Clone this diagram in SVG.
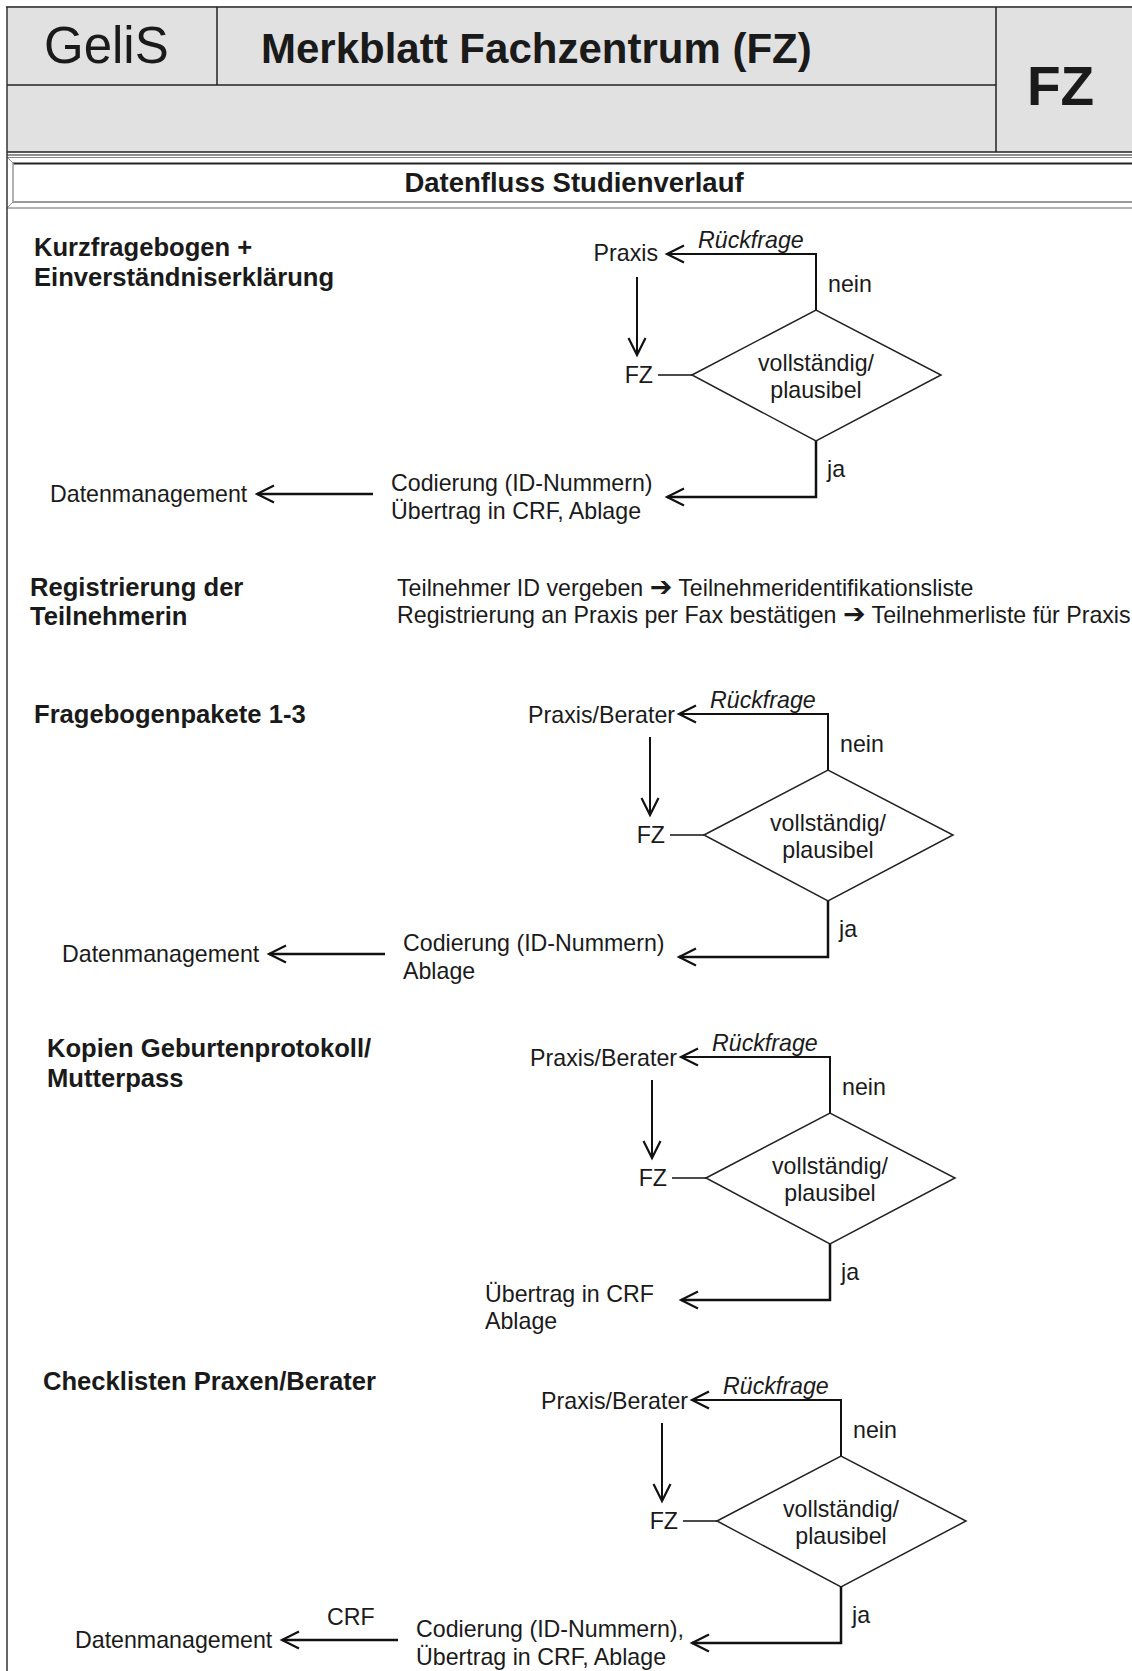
<svg xmlns="http://www.w3.org/2000/svg" width="1132" height="1671" viewBox="0 0 1132 1671">
<defs>
<style>
text{font-family:"Liberation Sans",Arial,sans-serif;fill:#1a1a1a}
.t{font-size:23.2px}
.h{font-size:25.6px;font-weight:bold}
.i{font-size:23.2px;font-style:italic}
.c{font-size:23.2px;text-anchor:middle}
.e{font-size:23.2px;text-anchor:end}
.ar{font-family:"DejaVu Sans",sans-serif;font-size:27px}
.ln{fill:none;stroke:#111;stroke-width:2}
.dm{fill:#fff;stroke:#222;stroke-width:1.5}
.hl{stroke:#222;stroke-width:1.5;fill:none}
</style>
<marker id="chev" markerUnits="userSpaceOnUse" markerWidth="30" markerHeight="30" viewBox="-22 -15 30 30" refX="0" refY="0" orient="auto" overflow="visible">
<path d="M-17,-8.5 L0,0 L-17,8.5" fill="none" stroke="#111" stroke-width="2.2"/>
</marker>
</defs>
<rect width="1132" height="1671" fill="#fff"/>
<g id="header">
<rect x="7" y="7" width="1130" height="145" fill="#e1e1e1"/>
<line x1="6" y1="7" x2="1132" y2="7" stroke="#555" stroke-width="2"/>
<line x1="217" y1="7" x2="217" y2="85" class="hl"/>
<line x1="7" y1="85" x2="996" y2="85" class="hl"/>
<line x1="996" y1="7" x2="996" y2="152" class="hl"/>
<line x1="7" y1="152" x2="1132" y2="152" class="hl"/>
<text x="44" y="63" style="font-size:51px">GeliS</text>
<text x="261" y="63" style="font-size:42px;font-weight:bold">Merkblatt Fachzentrum (FZ)</text>
<text x="1027" y="105" style="font-size:55px;font-weight:bold">FZ</text>
</g>
<g id="band">
<line x1="7" y1="155" x2="1132" y2="155" stroke="#222" stroke-width="1"/>
<line x1="7" y1="157.5" x2="1132" y2="157.5" stroke="#888" stroke-width="1"/>
<line x1="13" y1="163.5" x2="1132" y2="163.5" stroke="#222" stroke-width="2"/>
<line x1="13" y1="202" x2="1132" y2="202" stroke="#999" stroke-width="2"/>
<line x1="7" y1="208" x2="1132" y2="208" stroke="#999" stroke-width="1.5"/>
<line x1="13" y1="163" x2="13" y2="202" stroke="#999" stroke-width="1.5"/>
<line x1="7" y1="157" x2="13" y2="163" stroke="#999" stroke-width="1"/>
<line x1="7" y1="208" x2="13" y2="202" stroke="#999" stroke-width="1"/>
<text x="574" y="192" text-anchor="middle" style="font-size:27.5px;font-weight:bold">Datenfluss Studienverlauf</text>
</g>
<line x1="7" y1="7" x2="7" y2="1671" stroke="#333" stroke-width="1.5"/>

<g id="s1-nodes">
<g id="s1-title"><text class="h" x="34" y="256">Kurzfragebogen +</text><text class="h" x="34" y="286">Einverständniserklärung</text></g>
<g id="s1-praxis"><text class="e" x="658" y="261">Praxis</text></g>
<g id="s1-fz"><text class="e" x="653" y="383">FZ</text></g>
<g id="s1-check"><polygon class="dm" points="692,375 816,310 941,375 816,441"/><text class="c" x="816" y="371">vollständig/</text><text class="c" x="816" y="398">plausibel</text></g>
<g id="s1-out"><text class="t" x="391" y="491">Codierung (ID-Nummern)</text><text class="t" x="391" y="519">Übertrag in CRF, Ablage</text></g>
<g id="s1-dm"><text class="t" x="50" y="502">Datenmanagement</text></g>
</g>

<g id="s2-nodes">
<g id="s2-title"><text class="h" x="30" y="596">Registrierung der</text><text class="h" x="30" y="625">Teilnehmerin</text></g>
<g id="s2-text"><text class="t" x="397" y="596">Teilnehmer ID vergeben <tspan class="ar">➔</tspan> Teilnehmeridentifikationsliste</text><text class="t" x="397" y="623">Registrierung an Praxis per Fax bestätigen <tspan class="ar">➔</tspan> Teilnehmerliste für Praxis</text></g>
</g>

<g id="s3-nodes">
<g id="s3-title"><text class="h" x="34" y="723">Fragebogenpakete 1-3</text></g>
<g id="s3-praxis"><text class="e" x="675" y="723">Praxis/Berater</text></g>
<g id="s3-fz"><text class="e" x="665" y="843">FZ</text></g>
<g id="s3-check"><polygon class="dm" points="704,835 828,770 953,835 828,901"/><text class="c" x="828" y="831">vollständig/</text><text class="c" x="828" y="858">plausibel</text></g>
<g id="s3-out"><text class="t" x="403" y="951">Codierung (ID-Nummern)</text><text class="t" x="403" y="979">Ablage</text></g>
<g id="s3-dm"><text class="t" x="62" y="962">Datenmanagement</text></g>
</g>

<g id="s4-nodes">
<g id="s4-title"><text class="h" x="47" y="1057">Kopien Geburtenprotokoll/</text><text class="h" x="47" y="1087">Mutterpass</text></g>
<g id="s4-praxis"><text class="e" x="677" y="1066">Praxis/Berater</text></g>
<g id="s4-fz"><text class="e" x="667" y="1186">FZ</text></g>
<g id="s4-check"><polygon class="dm" points="706,1178 830,1113 955,1178 830,1244"/><text class="c" x="830" y="1174">vollständig/</text><text class="c" x="830" y="1201">plausibel</text></g>
<g id="s4-out"><text class="t" x="485" y="1302">Übertrag in CRF</text><text class="t" x="485" y="1329">Ablage</text></g>
</g>

<g id="s5-nodes">
<g id="s5-title"><text class="h" x="43" y="1390">Checklisten Praxen/Berater</text></g>
<g id="s5-praxis"><text class="e" x="688" y="1409">Praxis/Berater</text></g>
<g id="s5-fz"><text class="e" x="678" y="1529">FZ</text></g>
<g id="s5-check"><polygon class="dm" points="717,1521 841,1456 966,1521 841,1587"/><text class="c" x="841" y="1517">vollständig/</text><text class="c" x="841" y="1544">plausibel</text></g>
<g id="s5-out"><text class="t" x="416" y="1637">Codierung (ID-Nummern),</text><text class="t" x="416" y="1665">Übertrag in CRF, Ablage</text></g>
<g id="s5-dm"><text class="t" x="75" y="1648">Datenmanagement</text></g>
</g>

<g id="connectors">
<path class="ln" d="M816,310 V254 H667" marker-end="url(#chev)"/>
<text class="i" x="698" y="248">Rückfrage</text>
<text class="t" x="828" y="292">nein</text>
<path class="ln" d="M637,277 V355" marker-end="url(#chev)"/>
<path class="ln" d="M658,375 H692" style="stroke-width:1.5"/>
<path class="ln" d="M816,441 V497 H667" marker-end="url(#chev)" style="stroke-width:2.5"/>
<text class="t" x="827" y="477">ja</text>
<path class="ln" d="M373,494 H257" marker-end="url(#chev)" style="stroke-width:2.5"/>

<path class="ln" d="M828,770 V714 H679" marker-end="url(#chev)"/>
<text class="i" x="710" y="708">Rückfrage</text>
<text class="t" x="840" y="752">nein</text>
<path class="ln" d="M650,737 V815" marker-end="url(#chev)"/>
<path class="ln" d="M670,835 H704" style="stroke-width:1.5"/>
<path class="ln" d="M828,901 V957 H679" marker-end="url(#chev)" style="stroke-width:2.5"/>
<text class="t" x="839" y="937">ja</text>
<path class="ln" d="M385,954 H269" marker-end="url(#chev)" style="stroke-width:2.5"/>

<path class="ln" d="M830,1113 V1057 H681" marker-end="url(#chev)"/>
<text class="i" x="712" y="1051">Rückfrage</text>
<text class="t" x="842" y="1095">nein</text>
<path class="ln" d="M652,1080 V1158" marker-end="url(#chev)"/>
<path class="ln" d="M672,1178 H706" style="stroke-width:1.5"/>
<path class="ln" d="M830,1244 V1300 H681" marker-end="url(#chev)" style="stroke-width:2.5"/>
<text class="t" x="841" y="1280">ja</text>

<path class="ln" d="M841,1456 V1400 H692" marker-end="url(#chev)"/>
<text class="i" x="723" y="1394">Rückfrage</text>
<text class="t" x="853" y="1438">nein</text>
<path class="ln" d="M662,1423 V1501" marker-end="url(#chev)"/>
<path class="ln" d="M683,1521 H717" style="stroke-width:1.5"/>
<path class="ln" d="M841,1587 V1643 H692" marker-end="url(#chev)" style="stroke-width:2.5"/>
<text class="t" x="852" y="1623">ja</text>
<path class="ln" d="M398,1640 H282" marker-end="url(#chev)" style="stroke-width:2.5"/>
<text class="t" x="327" y="1625">CRF</text>
</g>
</svg>
